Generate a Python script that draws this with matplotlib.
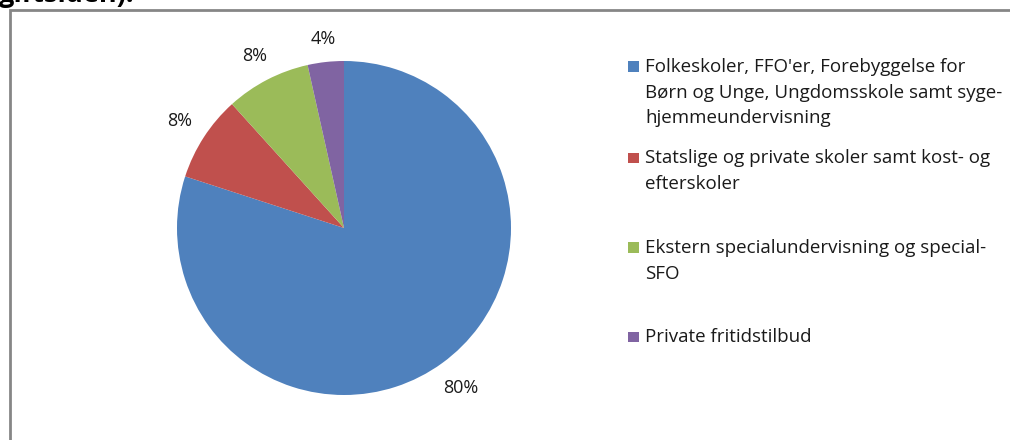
import matplotlib
matplotlib.use("Agg")
import matplotlib.pyplot as plt
from matplotlib.patches import Rectangle
import numpy as np

categories = [
    "Folkeskoler, FFO'er, Forebyggelse for\nBørn og Unge, Ungdomsskole samt syge-\nhjemmeundervisning",
    "Statslige og private skoler samt kost- og\nefterskoler",
    "Ekstern specialundervisning og special-\nSFO",
    "Private fritidstilbud",
]
values = [80.0, 8.3, 8.2, 3.5]
pct_labels = ["80%", "8%", "8%", "4%"]
colors = ["#4F81BD", "#C0504D", "#9BBB59", "#8064A2"]
title_text = "giftsiden)."

FONT = ["Open Sans", "DejaVu Sans"]
plt.rcParams["font.family"] = FONT

W, H = 1010, 440
fig = plt.figure(figsize=(W / 100, H / 100), dpi=100)

# frame
fig.patches.append(Rectangle((9.5 / W, -0.1), 1.2, 1 - 10.5 / H + 0.1,
                             transform=fig.transFigure, fill=False,
                             edgecolor="#868686", linewidth=2.0))

# cut-off title text above frame
fig.text(-1 / W, 1 - 1.5 / H, title_text, fontsize=19.5, fontweight="bold",
         ha="left", va="baseline", color="black")

# pie
cx, cy, r = 344, 228, 167
ax = fig.add_axes([(cx - r) / W, (H - cy - r) / H, 2 * r / W, 2 * r / H])
wedges, texts = ax.pie(values, colors=colors, startangle=90, counterclock=False,
                       radius=1.0, wedgeprops=dict(linewidth=0))
ax.set_xlim(-1, 1)
ax.set_ylim(-1, 1)
ax.set_aspect("equal")
ax.axis("off")

renderer = fig.canvas.get_renderer()
theta = 90.0
edge = 1.09  # distance (in radii) from centre to nearest label-box edge
for v, lab in zip(values, pct_labels):
    span = v / sum(values) * 360
    mid = np.deg2rad(theta - span / 2)
    theta -= span
    t = ax.text(0, 0, lab, ha="center", va="center", fontsize=13,
                color="#1a1a1a")
    bb = t.get_window_extent(renderer)
    hw = bb.width / 2 / r
    hh = bb.height / 2 / r * 0.8
    ext = hw * abs(np.cos(mid)) + hh * abs(np.sin(mid))
    d = edge + ext
    t.set_position((d * np.cos(mid), d * np.sin(mid)))

# legend
item_y = [67, 158, 248, 337]
line_h = 25.7
for y, lab, c in zip(item_y, categories, colors):
    fig.patches.append(Rectangle((628 / W, 1 - (y + 5) / H), 10.5 / W, 10.5 / H,
                                 transform=fig.transFigure, facecolor=c,
                                 edgecolor="none"))
    for i, line in enumerate(lab.split("\n")):
        fig.text(645 / W, 1 - (y + i * line_h) / H, line, fontsize=13.5,
                 ha="left", va="center", color="#1a1a1a")

fig.savefig("out.png", dpi=100)
